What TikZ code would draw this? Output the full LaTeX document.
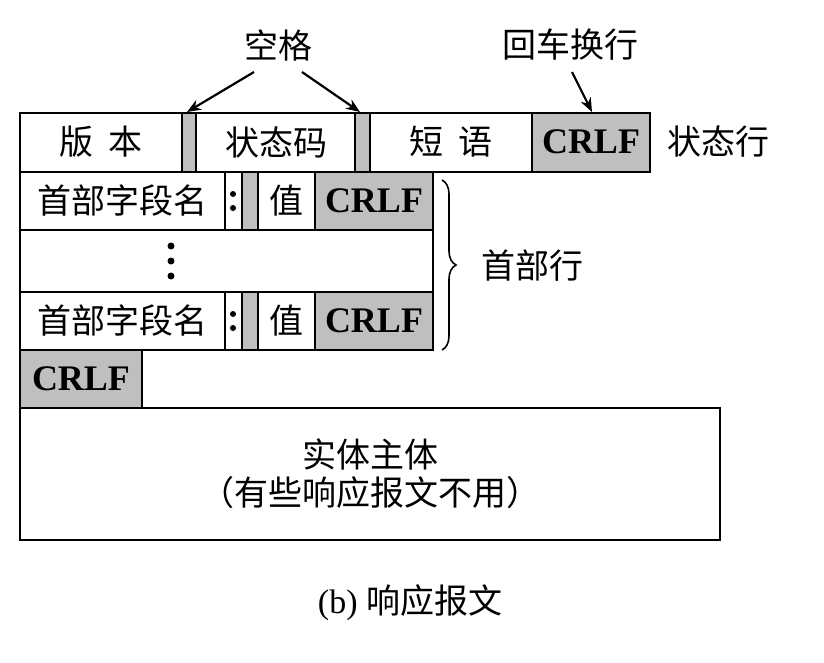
\documentclass[tikz,border=0pt]{standalone}
\usepackage{fontspec}
\setmainfont{Liberation Serif}
\newfontfamily\cjk{Noto Sans CJK SC}
\usetikzlibrary{decorations.pathreplacing,arrows.meta}
\begin{document}
\begin{tikzpicture}[x=1pt,y=-1pt,
  box/.style={draw,line width=1.6pt},
  gbox/.style={box,fill=black!25},
  zh/.style={font=\cjk\fontsize{34}{34}\selectfont},
  cr/.style={font=\bfseries\fontsize{36}{36}\selectfont},
  dot/.style={fill,circle,inner sep=0pt,minimum size=7pt},
  arr/.style={line width=2.2pt,-{Stealth[length=14pt,width=11pt]}}]
\useasboundingbox (0,0) rectangle (824,662);
% status row
\draw[box] (20,113) rectangle (182,172);
\node[zh] (ver) at (101,142) {版\ \ 本};
\draw[gbox] (182,113) rectangle (196,172);
\coordinate (sp1) at (187,112);
\draw[box] (196,113) rectangle (355,172);
\node[zh] (st) at (276,142) {状态码};
\draw[gbox] (355,113) rectangle (370,172);
\coordinate (sp2) at (360,112);
\draw[box] (370,113) rectangle (532,172);
\node[zh] (ph) at (451,142) {短\ \ 语};
\draw[gbox] (532,113) rectangle (650,172);
\node[cr] (c0) at (591,142) {CRLF};
\node[zh] (stl) at (718,142) {状态行};
% header rows
\foreach \t/\n in {172/a,292/b}{
  \draw[box] (20,\t) rectangle (225,\t+58);
  \node[zh] at (122,\t+29) {首部字段名};
  \draw[box] (225,\t) rectangle (242,\t+58);
  \node[dot,minimum size=6pt] at (233,\t+22) {};
  \node[dot,minimum size=6pt] at (233,\t+36) {};
  \draw[gbox] (242,\t) rectangle (258,\t+58);
  \draw[box] (258,\t) rectangle (315,\t+58);
  \node[zh] at (286,\t+29) {值};
  \draw[gbox] (315,\t) rectangle (433,\t+58);
  \node[cr] at (374,\t+29) {CRLF};
}
\draw[box] (20,230) rectangle (433,292);
\node[dot] (d1) at (171,246) {};
\node[dot] (d2) at (171,261) {};
\node[dot] (d3) at (171,276) {};
% brace
\draw[line width=1.6pt,decorate,decoration={brace,amplitude=14pt}] (442,180) -- (442,350);
\node[zh,anchor=west] (hl) at (478,266) {首部行};
% CRLF row
\draw[gbox] (20,350) rectangle (142,408);
\node[cr] (c3) at (81,379) {CRLF};
% entity
\draw[box] (20,408) rectangle (720,540);
\node[zh,align=center] (ent) at (370,474) {实体主体\\[4pt]（有些响应报文不用）};
% labels & arrows
\node[zh] (kg) at (278,45) {空格};
\node[zh] (hc) at (570,45) {回车换行};
\draw[arr] (254,72) -- (sp1);
\draw[arr] (302,72) -- (sp2);
\draw[arr] (572,72) -- (592,112);
\node[font=\fontsize{34}{34}\selectfont] (cap) at (410,603) {(b) {\cjk 响应报文}};
\end{tikzpicture}
\end{document}
